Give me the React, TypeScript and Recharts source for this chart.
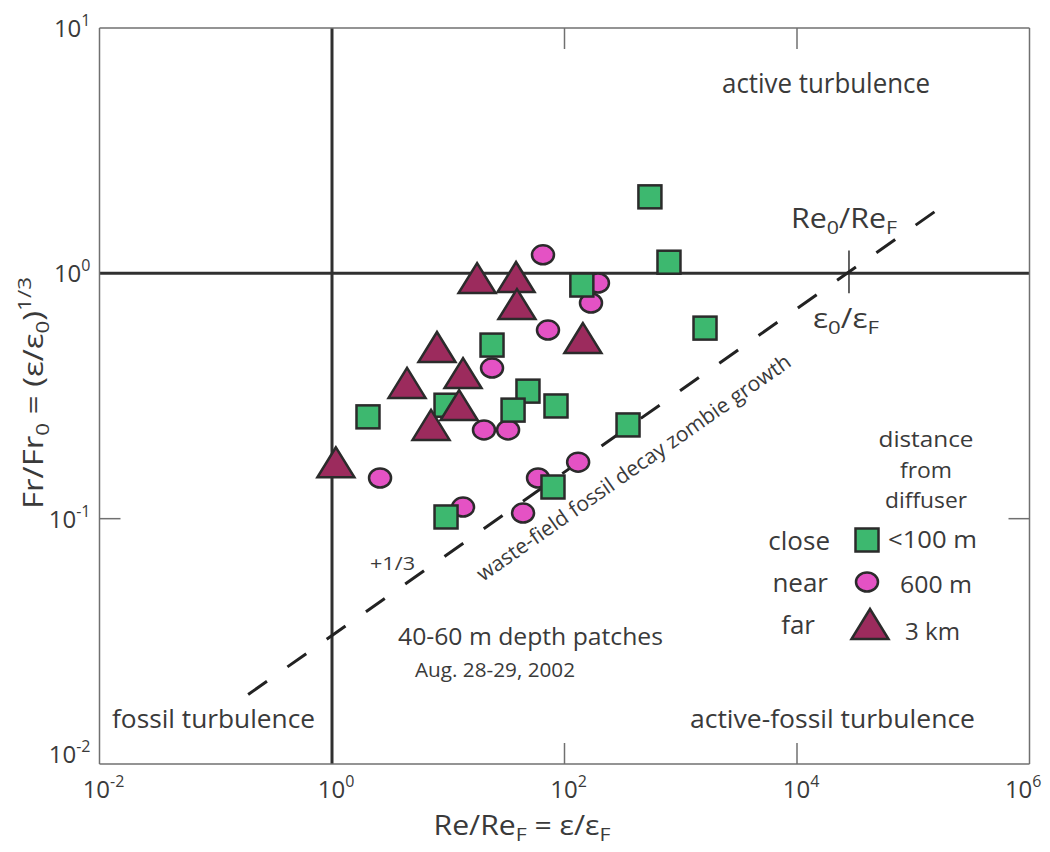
import { ScatterChart, Scatter, XAxis, YAxis, ReferenceLine } from "recharts";

// close (<100 m) squares
const closeX = [543, 792, 141, 1617, 23.8, 48.5, 84.5, 36.1, 2.04, 9.57, 352, 79.6, 9.57];
const closeY = [2.05, 1.11, 0.896, 0.598, 0.51, 0.331, 0.288, 0.277, 0.26, 0.29, 0.241, 0.1346, 0.1016];
// near (600 m) circles
const nearX = [65.3, 194, 169, 72.1, 23.8, 20.3, 32.7, 2.59, 131, 59.2, 13.4, 44.0];
const nearY = [1.19, 0.913, 0.757, 0.587, 0.411, 0.23, 0.23, 0.1465, 0.17, 0.1465, 0.1115, 0.1054];
// far (3 km) triangles
const farX = [17.7, 38.3, 39.0, 144, 8.0, 13.4, 4.42, 12.4, 7.11, 1.08];
const farY = [0.913, 0.922, 0.715, 0.52, 0.478, 0.374, 0.341, 0.277, 0.23, 0.162];

const xTicks = [0.01, 1, 100, 1e4, 1e6];
const yTicks = [0.01, 0.1, 1, 10];
const xInnerTicks = [100, 1e4];
const yInnerTicks = [0.1];

// +1/3 waste-field line and the Re0/ReF marker
const wasteLine = [{ x: 0.19, y: 0.0192 }, { x: 1.68e5, y: 1.84 }];
const re0Mark = [{ x: 2.8e4, y: 0.83 }, { x: 2.8e4, y: 1.24 }];

const FONT = "'Open Sans', 'DejaVu Sans', sans-serif";
const TXT = "#3a3a3a";
const FRAME = "#707070";
const DARK = "#303030";
const OUTLINE = "#2b2b2b";
const GREEN = "#3db86f";
const PINK = "#e452c4";
const MAROON = "#9c2b5d";

const PLOT_H = 736; // plot height, used to mirror the inner ticks on the top edge

const toPts = (xs: number[], ys: number[]) => xs.map((x, i) => ({ x, y: ys[i] }));

const Square = (p: any) => (
    <rect x={p.cx - 11.5} y={p.cy - 11.5} width={23} height={23} fill={GREEN} stroke={OUTLINE} strokeWidth={2.5} />
);
const Dot = (p: any) => (
    <ellipse cx={p.cx} cy={p.cy} rx={11} ry={9.5} fill={PINK} stroke={OUTLINE} strokeWidth={2.5} />
);
const Tri = (p: any) => (
    <polygon
        points={`${p.cx},${p.cy - 20} ${p.cx - 18.5},${p.cy + 10} ${p.cx + 18.5},${p.cy + 10}`}
        fill={MAROON} stroke={OUTLINE} strokeWidth={2.5} strokeLinejoin="miter"
    />
);

const Pow = ({ e }: { e: number }) => (
    <>10<tspan dy={-11} fontSize={16}>{e}</tspan></>
);

const BottomTick = (props: any) => {
    const { x, y, payload } = props;
    const e = Math.round(Math.log10(payload.value));
    const inner = xInnerTicks.includes(payload.value);
    const last = e === 6;
    return <g>
        {inner && <line x1={x} x2={x} y1={y} y2={y - 21} stroke={FRAME} strokeWidth={1.5} />}
        {inner && <line x1={x} x2={x} y1={y - PLOT_H} y2={y - PLOT_H + 21} stroke={FRAME} strokeWidth={1.5} />}
        <text x={last ? x + 12 : x + 4} y={y + 34} textAnchor={last ? "end" : "middle"} fontSize={24} fill={TXT} fontFamily={FONT}><Pow e={e} /></text>
    </g>
}

const LeftTick = (props: any) => {
    const { x, y, payload } = props;
    const e = Math.round(Math.log10(payload.value));
    return <g>
        {yInnerTicks.includes(payload.value) && <line x1={x} x2={x + 21} y1={y} y2={y} stroke={FRAME} strokeWidth={1.5} />}
        <text x={x - 9} y={y + (e === -2 ? -1 : 9)} textAnchor="end" fontSize={24} fill={TXT} fontFamily={FONT}><Pow e={e} /></text>
    </g>
}

const RightTick = (props: any) => {
    const { x, y } = props;
    return <line x1={x} x2={x - 21} y1={y} y2={y} stroke={FRAME} strokeWidth={1.5} />
}

const T = ({ x, y, size = 24, anchor = "start", len, children, ...rest }: any) => (
    <text x={x} y={y} fontSize={size} textAnchor={anchor} fill={TXT} fontFamily={FONT}
        textLength={len} lengthAdjust={len ? "spacingAndGlyphs" : undefined} {...rest}>
        {children}
    </text>
);

const Annotations = () => (
    <svg width={1042} height={844} style={{ position: "absolute", left: 0, top: 0, pointerEvents: "none" }}>
        <g transform="translate(-8,-8)">
            {/* axis titles */}
            <text transform="translate(43,393) rotate(-90)" textAnchor="middle" fontSize={28} fill={TXT} fontFamily={FONT}
                textLength={232} lengthAdjust="spacingAndGlyphs">
                Fr/Fr<tspan dy={6} fontSize={19}>0</tspan><tspan dy={-6}> = (ε/ε</tspan><tspan dy={6} fontSize={19}>0</tspan><tspan dy={-6}>)</tspan><tspan dy={-12} fontSize={19}>1/3</tspan>
            </text>
            <T x={522} y={835} size={27} anchor="middle" len={177}>
                Re/Re<tspan dy={6} fontSize={19}>F</tspan><tspan dy={-6}> = ε/ε</tspan><tspan dy={6} fontSize={19}>F</tspan>
            </T>

            {/* regions */}
            <T x={722} y={93} size={27} len={208}>active turbulence</T>
            <T x={112} y={728} size={25} len={203}>fossil turbulence</T>
            <T x={690} y={728} size={25} len={285}>active-fossil turbulence</T>

            <T x={791} y={228} size={27} len={106}>
                Re<tspan dy={6} fontSize={19}>0</tspan><tspan dy={-6}>/Re</tspan><tspan dy={6} fontSize={19}>F</tspan>
            </T>
            <T x={813} y={328} size={27} len={66}>
                ε<tspan dy={6} fontSize={19}>0</tspan><tspan dy={-6}>/ε</tspan><tspan dy={6} fontSize={19}>F</tspan>
            </T>

            <T x={483} y={582} size={21} len={378} transform="rotate(-35 483 582)">waste-field fossil decay zombie growth</T>
            <T x={370} y={570} size={18} len={45}>+1/3</T>
            <T x={398} y={645} size={23} len={265}>40-60 m depth patches</T>
            <T x={415} y={677} size={20} len={160}>Aug. 28-29, 2002</T>

            {/* legend */}
            <T x={926} y={447} size={21} anchor="middle" len={95}>distance</T>
            <T x={926} y={478} size={21} anchor="middle" len={52}>from</T>
            <T x={926} y={508} size={21} anchor="middle" len={82}>diffuser</T>
            <T x={830} y={550} size={26} anchor="end">close</T>
            <T x={828} y={592} size={26} anchor="end">near</T>
            <T x={815} y={634} size={26} anchor="end">far</T>
            <Square cx={867} cy={540} />
            <Dot cx={867} cy={582} />
            <Tri cx={870} cy={629} />
            <T x={888} y={548} size={24} len={89}>&lt;100 m</T>
            <T x={900} y={593} size={24} len={72}>600 m</T>
            <T x={905} y={640} size={24} len={55}>3 km</T>
        </g>
    </svg>
);

const App = () => {
    return <div style={{ position: "relative", width: 1042, height: 844 }}>
        <ScatterChart width={1042} height={844} margin={{ top: 19, right: 19.5, bottom: 27, left: 31.5 }}>
            <XAxis xAxisId={0} dataKey="x" type="number" scale="log" domain={[0.01, 1e6]} allowDataOverflow
                ticks={xTicks} interval={0} tickSize={0} tickMargin={0} height={61}
                axisLine={{ stroke: FRAME, strokeWidth: 1.5 }} tick={<BottomTick />} />
            <XAxis xAxisId="top" orientation="top" type="number" scale="log" domain={[0.01, 1e6]} allowDataOverflow
                ticks={xInnerTicks} interval={0} tickSize={0} tickMargin={0} height={1}
                axisLine={{ stroke: FRAME, strokeWidth: 1.5 }} tick={false} />
            <YAxis yAxisId={0} dataKey="y" type="number" scale="log" domain={[0.01, 10]} allowDataOverflow
                ticks={yTicks} interval={0} tickSize={0} tickMargin={0} width={60}
                axisLine={{ stroke: FRAME, strokeWidth: 1.5 }} tick={<LeftTick />} />
            <YAxis yAxisId="right" orientation="right" type="number" scale="log" domain={[0.01, 10]} allowDataOverflow
                ticks={yInnerTicks} interval={0} tickSize={0} tickMargin={0} width={1}
                axisLine={{ stroke: FRAME, strokeWidth: 1.5 }} tick={<RightTick />} />

            <ReferenceLine x={1} stroke={DARK} strokeWidth={3} />
            <ReferenceLine y={1} stroke={DARK} strokeWidth={3} />
            <ReferenceLine segment={re0Mark} stroke={DARK} strokeWidth={1.5} />
            <ReferenceLine segment={wasteLine} stroke="#222" strokeWidth={3} strokeDasharray="23 25" />

            <Scatter name="600 m" data={toPts(nearX, nearY)} shape={Dot} isAnimationActive={false} />
            <Scatter name="<100 m" data={toPts(closeX, closeY)} shape={Square} isAnimationActive={false} />
            <Scatter name="3 km" data={toPts(farX, farY)} shape={Tri} isAnimationActive={false} />
        </ScatterChart>
        <Annotations />
    </div>
}

export default App;
